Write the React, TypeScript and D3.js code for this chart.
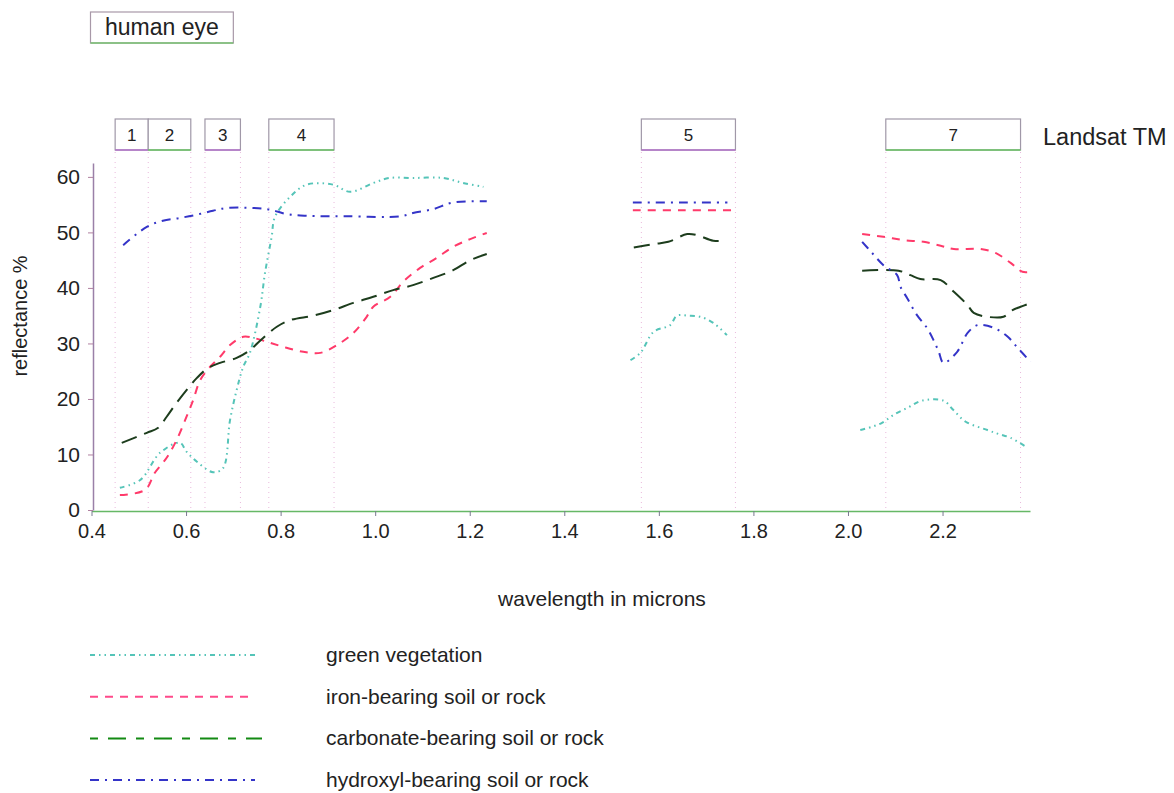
import { useEffect, useRef } from 'react'
import * as d3 from 'd3'

// wavelength (microns), reflectance (%)
const vegVis: [number, number][] = [
  [0.46, 4.0], [0.503, 5.4], [0.545, 10.3], [0.587, 12.1], [0.601, 10.5], [0.623, 8.7],
  [0.657, 6.8], [0.678, 7.5], [0.693, 16.2], [0.707, 21.6], [0.721, 25.8], [0.735, 28.3],
  [0.757, 36.6], [0.767, 42.7], [0.781, 49.2], [0.788, 52.8], [0.82, 56.4], [0.855, 58.6],
  [0.911, 58.6], [0.947, 57.3], [0.996, 58.9], [1.03, 59.8], [1.08, 59.8], [1.144, 59.8],
  [1.186, 58.9], [1.229, 58.2],
]
const vegB5: [number, number][] = [
  [1.54, 27.0], [1.561, 28.3], [1.589, 32.1], [1.624, 33.3], [1.638, 35.0], [1.662, 35.0],
  [1.688, 34.8], [1.715, 33.7], [1.744, 31.5],
]
const vegB7: [number, number][] = [
  [2.026, 14.4], [2.051, 15.0], [2.072, 15.7], [2.096, 17.1], [2.128, 18.5], [2.157, 19.7],
  [2.202, 19.7], [2.223, 18.0], [2.249, 15.9], [2.295, 14.4], [2.318, 13.7], [2.344, 13.0],
  [2.376, 11.4],
]

const ironVis: [number, number][] = [
  [0.46, 2.7], [0.513, 3.6], [0.534, 6.7], [0.559, 9.4], [0.58, 12.6], [0.601, 16.8],
  [0.615, 19.8], [0.63, 23.4], [0.651, 25.8], [0.672, 27.6], [0.693, 29.7], [0.721, 31.2],
  [0.742, 31.0], [0.771, 30.3], [0.805, 29.4], [0.848, 28.5], [0.884, 28.3], [0.919, 29.7],
  [0.954, 31.9], [0.982, 34.8], [0.996, 36.6], [1.032, 38.4], [1.059, 41.1], [1.095, 43.6],
  [1.13, 45.4], [1.165, 47.4], [1.201, 48.8], [1.236, 49.9],
]
const ironB5: [number, number][] = [[1.545, 54.0], [1.65, 54.0], [1.757, 54.0]]
const ironB7: [number, number][] = [
  [2.03, 49.7], [2.075, 49.2], [2.118, 48.6], [2.16, 48.3], [2.196, 47.6], [2.224, 47.0],
  [2.281, 47.0], [2.312, 46.3], [2.344, 44.5], [2.369, 42.9], [2.386, 42.9],
]

const carbVis: [number, number][] = [
  [0.464, 12.1], [0.517, 13.9], [0.541, 14.8], [0.559, 16.8], [0.58, 19.3], [0.601, 21.6],
  [0.623, 23.8], [0.647, 25.6], [0.672, 26.5], [0.707, 27.4], [0.735, 28.8], [0.763, 31.0],
  [0.792, 33.0], [0.82, 34.2], [0.869, 35.0], [0.911, 36.0], [0.954, 37.3], [0.996, 38.4],
  [1.038, 39.6], [1.08, 40.5], [1.123, 41.8], [1.165, 43.2], [1.201, 45.0], [1.236, 46.1],
]
const carbB5: [number, number][] = [
  [1.547, 47.3], [1.589, 47.9], [1.62, 48.3], [1.66, 49.7], [1.681, 49.5], [1.715, 48.5],
  [1.741, 48.5],
]
const carbB7: [number, number][] = [
  [2.03, 43.1], [2.107, 43.1], [2.132, 42.3], [2.153, 41.6], [2.196, 41.4], [2.224, 39.3],
  [2.253, 36.9], [2.266, 35.5], [2.295, 34.8], [2.329, 34.8], [2.348, 36.0], [2.365, 36.6],
  [2.39, 37.4],
]

const hydVis: [number, number][] = [
  [0.467, 47.7], [0.517, 51.0], [0.551, 52.1], [0.587, 52.6], [0.623, 53.2], [0.657, 53.9],
  [0.686, 54.4], [0.742, 54.4], [0.778, 54.1], [0.813, 53.3], [0.855, 53.0], [0.94, 52.9],
  [1.053, 52.9], [1.08, 53.5], [1.123, 54.2], [1.165, 55.4], [1.236, 55.6],
]
const hydB5: [number, number][] = [[1.545, 55.4], [1.65, 55.4], [1.745, 55.4]]
const hydB7: [number, number][] = [
  [2.03, 48.3], [2.051, 46.3], [2.075, 44.1], [2.104, 42.3], [2.111, 40.2], [2.125, 38.2],
  [2.146, 35.1], [2.167, 32.8], [2.181, 30.6], [2.192, 28.5], [2.202, 26.5], [2.231, 28.5],
  [2.253, 31.9], [2.274, 33.3], [2.309, 32.8], [2.338, 31.2], [2.359, 29.2], [2.386, 26.7],
]

const bandNames = ['1', '2', '3', '4', '5', '7']
const bandRanges: [number, number][] = [
  [0.45, 0.52], [0.52, 0.61], [0.64, 0.715], [0.775, 0.913], [1.563, 1.762], [2.08, 2.365],
]
const eyeRange: [number, number] = [0.4, 0.7]

const xTicks = [0.4, 0.6, 0.8, 1.0, 1.2, 1.4, 1.6, 1.8, 2.0, 2.2]
const yTicks = [0, 10, 20, 30, 40, 50, 60]

const series = [
  { name: 'green vegetation', parts: [vegVis, vegB5, vegB7], color: '#55c4b8', dash: '5,4,1.5,4,1.5,4' },
  { name: 'iron-bearing soil or rock', parts: [ironVis, ironB5, ironB7], color: '#ff3a6a', dash: '8,7' },
  { name: 'carbonate-bearing soil or rock', parts: [carbVis, carbB5, carbB7], color: '#1d3d1d', dash: '16,8' },
  { name: 'hydroxyl-bearing soil or rock', parts: [hydVis, hydB5, hydB7], color: '#3434c8', dash: '9,6,2,6' },
]
const legendColors = ['#55c4b8', '#ff4a8a', '#138a13', '#3434c8']

export default function App() {
  const ref = useRef<SVGSVGElement | null>(null)

  useEffect(() => {
    if (!ref.current) return
    const width = 1174
    const height = 793
    const svg = d3.select(ref.current).attr('width', width).attr('height', height)
    svg.selectAll('*').remove()
    svg.append('rect').attr('width', width).attr('height', height).attr('fill', '#fff')

    const font = 'Liberation Sans, Arial, sans-serif'
    const x = d3.scaleLinear().domain([0.4, 2.385]).range([91.5, 1030])
    const y = d3.scaleLinear().domain([0, 62.5]).range([510, 163])

    // band guide lines
    const edges = Array.from(new Set(bandRanges.flat()))
    svg.append('g')
      .selectAll('line')
      .data(edges)
      .join('line')
      .attr('x1', (d) => x(d)).attr('x2', (d) => x(d))
      .attr('y1', 152).attr('y2', 508)
      .attr('stroke', '#e9b9dc').attr('stroke-width', 1).attr('stroke-dasharray', '1,4')

    // band boxes
    const boxes = svg.append('g')
    bandRanges.forEach((r, i) => {
      const x0 = x(r[0])
      const x1 = x(r[1])
      boxes.append('rect')
        .attr('x', x0).attr('y', 119).attr('width', x1 - x0).attr('height', 31)
        .attr('fill', '#fff').attr('stroke', '#a098a8').attr('stroke-width', 1.2)
      boxes.append('line')
        .attr('x1', x0).attr('x2', x1).attr('y1', 150).attr('y2', 150)
        .attr('stroke', i % 2 ? '#66c060' : '#b070c8').attr('stroke-width', 1.4)
      boxes.append('text')
        .attr('x', (x0 + x1) / 2).attr('y', 141)
        .attr('text-anchor', 'middle').attr('font-family', font).attr('font-size', 17).attr('fill', '#222')
        .text(bandNames[i])
    })
    svg.append('text')
      .attr('x', 1043).attr('y', 145)
      .attr('font-family', font).attr('font-size', 23.5).attr('fill', '#222')
      .text('Landsat TM')

    // human eye box
    const ex0 = x(eyeRange[0]) - 1
    const ex1 = x(eyeRange[1])
    svg.append('rect')
      .attr('x', ex0).attr('y', 12).attr('width', ex1 - ex0).attr('height', 31)
      .attr('fill', '#fff').attr('stroke', '#a898a8').attr('stroke-width', 1.2)
    svg.append('line')
      .attr('x1', ex0).attr('x2', ex1).attr('y1', 43).attr('y2', 43)
      .attr('stroke', '#77c070').attr('stroke-width', 1.4)
    svg.append('text')
      .attr('x', (ex0 + ex1) / 2).attr('y', 35)
      .attr('text-anchor', 'middle').attr('font-family', font).attr('font-size', 23).attr('fill', '#222')
      .text('human eye')

    // axes
    const gx = svg.append('g')
      .attr('transform', 'translate(0,511)')
      .call(d3.axisBottom(x).tickValues(xTicks).tickSize(5).tickSizeOuter(0).tickFormat((d) => d3.format('.1f')(d as number)))
    gx.select('.domain').attr('stroke', '#66b866').attr('stroke-width', 1.5)
    gx.selectAll('.tick line').attr('stroke', '#7a7a90')
    gx.selectAll('.tick text').attr('fill', '#222').attr('font-size', 20).attr('font-family', font).attr('dy', '0.95em')

    const gy = svg.append('g')
      .attr('transform', 'translate(93,0)')
      .call(d3.axisLeft(y).tickValues(yTicks).tickSize(5).tickSizeOuter(0))
    gy.select('.domain').attr('stroke', '#9a80a8').attr('stroke-width', 1.5)
    gy.selectAll('.tick line').attr('stroke', '#b080a0')
    gy.selectAll('.tick text').attr('fill', '#222').attr('font-size', 21).attr('font-family', font).attr('x', -13)

    svg.append('text')
      .attr('transform', 'translate(27,316) rotate(-90)')
      .attr('text-anchor', 'middle').attr('font-family', font).attr('font-size', 20).attr('fill', '#222')
      .text('reflectance %')
    svg.append('text')
      .attr('x', 602).attr('y', 606)
      .attr('text-anchor', 'middle').attr('font-family', font).attr('font-size', 21).attr('fill', '#222')
      .text('wavelength in microns')

    // curves
    const line = d3.line<[number, number]>()
      .x((d) => x(d[0]))
      .y((d) => y(d[1]))
      .curve(d3.curveCatmullRom.alpha(0.5))
    series.forEach((s) => {
      svg.append('g')
        .selectAll('path')
        .data(s.parts)
        .join('path')
        .attr('d', (d) => line(d))
        .attr('fill', 'none')
        .attr('stroke', s.color)
        .attr('stroke-width', 2)
        .attr('stroke-dasharray', s.dash)
    })

    // legend
    const lg = svg.append('g')
    series.forEach((s, i) => {
      const ly = 655 + i * 41.7
      lg.append('line')
        .attr('x1', 90).attr('x2', i === 2 ? 262 : 255).attr('y1', ly).attr('y2', ly)
        .attr('stroke', legendColors[i]).attr('stroke-width', 2)
        .attr('stroke-dasharray', i === 2 ? '8,10,18,10' : s.dash)
      lg.append('text')
        .attr('x', 326).attr('y', ly + 7)
        .attr('font-family', font).attr('font-size', 21).attr('fill', '#222')
        .text(s.name)
    })
  }, [])

  return <svg ref={ref} style={{ position: 'absolute', left: 0, top: 0, display: 'block' }} />
}
